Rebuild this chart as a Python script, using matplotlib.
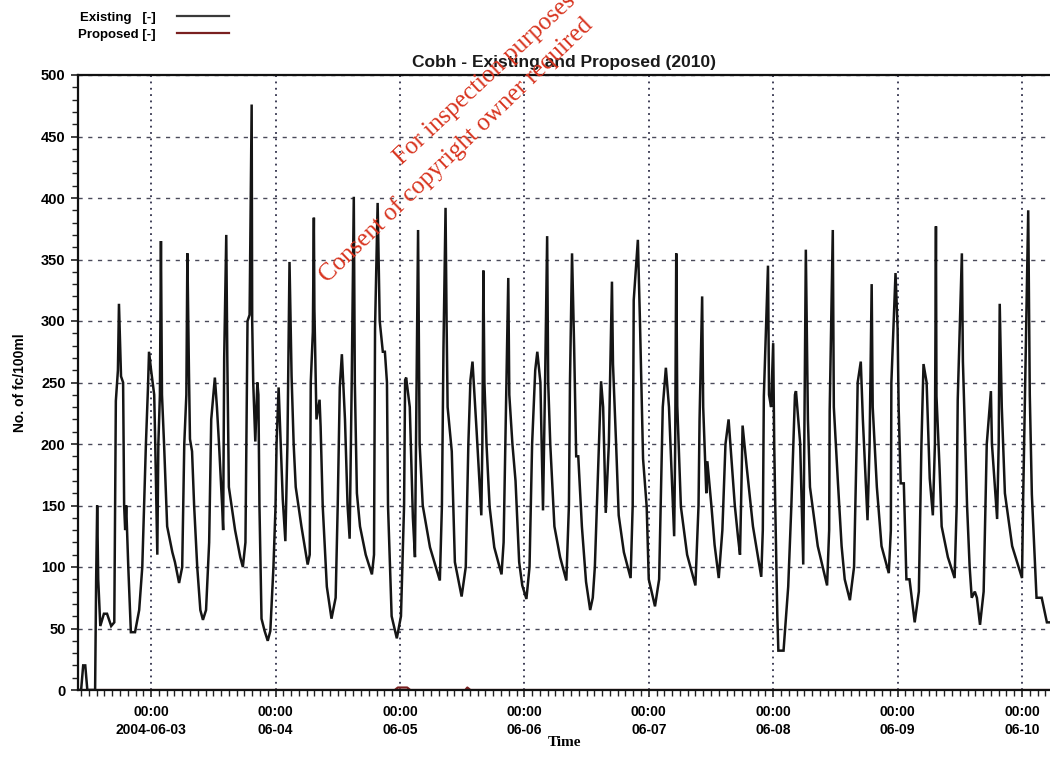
import matplotlib
matplotlib.use("Agg")
import matplotlib.pyplot as plt
from matplotlib.ticker import MultipleLocator, FixedLocator
from matplotlib.lines import Line2D

# ---------------- data (hours since 2004-06-02 00:00) ----------------
existing_hours = [
    9.9, 10.5, 10.9, 11.3, 11.7, 13.2, 13.4, 13.6, 13.8, 14.2, 14.9, 15.5, 16.3, 16.9,
    17.2, 17.6, 17.8, 18.2, 18.6, 18.8, 19.0, 19.2, 19.6, 20.1, 20.9, 21.7, 22.3, 23.0,
    23.4, 23.6, 24.0, 24.6, 24.8, 25.2, 25.4, 25.7, 25.9, 26.1, 26.5, 27.1, 28.1, 28.6,
    29.4, 30.0, 30.4, 30.8, 31.0, 31.3, 31.5, 31.9, 32.3, 32.9, 33.5, 34.0, 34.6, 35.2,
    35.6, 36.3, 36.7, 37.1, 37.7, 37.9, 38.1, 38.5, 38.7, 39.0, 40.2, 41.2, 41.7,
    42.2, 42.6, 43.0, 43.4, 43.5, 43.7, 44.1, 44.5, 44.7, 44.9, 45.3, 45.9, 46.5, 47.0,
    47.6, 48.0, 48.2, 48.6, 49.0, 49.4, 49.9, 50.3, 50.7, 51.1, 51.5, 51.9, 53.0, 54.2,
    54.6, 54.8, 55.2, 55.4, 55.5, 55.9, 56.5, 56.7, 57.1, 57.9, 58.8, 59.6, 60.0, 60.4,
    60.8, 61.4, 61.9, 62.3, 62.7, 63.1, 63.3, 63.7, 64.3, 65.4, 66.6, 67.0, 67.2, 67.7,
    68.1, 68.7, 69.1, 69.5, 69.7, 70.4, 71.4, 72.2, 72.8, 73.0,
    73.2, 73.9, 74.1, 74.5, 74.9, 75.1, 75.5, 75.8, 76.4, 77.8, 79.7, 80.1, 80.4, 80.8,
    81.0, 81.2, 82.0, 82.6, 83.9, 84.7, 85.2, 85.6, 86.0, 86.8, 87.7, 87.9, 88.1, 88.3,
    88.7, 89.3, 90.2, 91.6, 92.0, 92.5, 92.9, 93.1, 93.7, 94.3, 95.0, 95.6, 96.4, 97.0,
    97.5, 98.1, 98.5, 99.1, 99.6, 100.0, 100.4, 100.6, 101.0, 101.8, 102.9, 104.1, 104.6,
    104.8, 105.2,
    105.6, 106.0, 106.4, 107.1, 107.9, 108.7, 109.2, 109.6, 110.0, 110.8, 111.2, 111.7,
    112.3, 112.9, 113.1, 113.7, 114.2, 115.2, 116.5, 116.9, 117.1, 117.9, 118.3, 118.9,
    119.6, 120.0, 121.2, 122.0, 122.7, 123.3, 123.9, 124.9, 125.1, 125.3, 125.5, 126.2,
    127.4, 129.0, 129.6, 129.8, 130.3, 130.5, 131.1, 131.3, 132.1, 132.7, 133.5, 134.2,
    134.8, 135.4, 136.6, 137.2, 137.6, 137.8, 138.1, 138.9, 140.1, 141.7, 142.0, 142.2,
    143.0, 143.2, 143.6, 144.0, 144.2, 144.4, 144.8, 145.0, 146.0, 146.9, 147.5, 148.2,
    148.4, 149.2, 149.8, 150.0, 150.3, 150.7, 151.1, 152.6, 154.4, 154.8, 154.9, 155.5,
    155.7, 156.5, 157.2, 157.8, 158.8, 159.6, 160.1, 160.3, 160.9, 161.3, 162.2, 162.6,
    163.0, 163.2, 164.0, 164.9, 166.3, 166.7, 166.8, 167.6, 168.0, 168.2, 168.6, 169.2,
    169.7, 170.3, 171.3, 172.1, 172.6, 173.0, 173.6, 174.2, 174.8, 175.2, 175.4, 175.5,
    176.1, 176.5, 177.7, 179.0, 179.4, 179.6, 180.4, 180.6, 181.4, 181.9, 182.3, 182.9,
    183.3, 183.9, 184.6, 185.2, 186.0, 186.2, 187.2, 187.5, 187.7, 188.1, 188.7, 190.1,
    192.0, 192.2, 192.6, 193.2, 193.5, 193.9, 194.8, 195.8, 196.8, 197.4,
]
existing_values = [
    0, 0, 20, 20, 0, 0, 90, 150, 90, 52, 62, 62, 52, 55,
    235, 260, 314, 255, 250, 150, 130, 150, 100, 47, 47, 65, 100, 200,
    246, 275, 260, 240, 200, 110, 200, 240, 365, 240, 200, 133, 112, 104,
    87, 100, 200, 240, 355, 259, 204, 194, 150, 100, 65, 57, 65, 120,
    220, 254, 230, 200, 150, 130, 270, 370, 270, 165, 130, 108, 100,
    120, 300, 305, 476, 300, 250, 202, 250, 240, 150, 58, 48, 40, 48,
    100, 149, 200, 246, 200, 155, 121, 200, 348, 255, 200, 165, 133, 102,
    110, 250, 291, 384, 310, 220, 236, 214, 150, 84, 58, 75, 150, 246,
    273, 220, 150, 123, 250, 401, 250, 160, 133, 110, 94, 110, 294, 396,
    300, 275, 275, 250, 150, 60, 42, 60, 150, 252,
    254, 230, 200, 140, 108, 200, 374, 200, 150, 116, 89, 150, 278, 392,
    300, 230, 194, 104, 76, 100, 200, 252, 267, 210, 142, 200, 341, 250,
    200, 149, 116, 94, 120, 239, 335, 240, 200, 170, 104, 85, 74, 100,
    200, 260, 275, 250, 146, 250, 369, 250, 200, 133, 108, 89, 150,
    250, 355,
    280, 190, 190, 133, 88, 65, 75, 100, 150, 251, 230, 144,
    200, 332, 265, 200, 142, 112, 91, 150, 317, 366, 300, 188,
    149, 90, 68, 90, 230, 262, 230, 125, 200, 355, 231, 149,
    110, 85, 150, 220, 320, 230, 160, 186, 149, 118, 91, 130,
    200, 220, 150, 125, 110, 150, 215, 181, 133, 92, 130, 239,
    345, 240, 230, 282, 200, 150, 60, 32, 32, 84, 149, 240,
    243, 201, 102, 200, 358, 220, 165, 117, 85, 130, 227, 374,
    230, 168, 117, 90, 73, 100, 200, 250, 267, 220, 138, 200,
    330, 230, 165, 117, 95, 130, 250, 339, 294, 230, 168, 168,
    90, 90, 55, 80, 200, 265, 250, 172, 142, 200, 377, 239,
    180, 133, 108, 91, 150, 236, 355, 267, 150, 100, 75, 80,
    75, 53, 80, 200, 243, 200, 139, 200, 314, 230, 160, 117,
    91, 150, 246, 390, 240, 159, 75, 75, 55, 55,
]
proposed_hours = [9.9, 71.0, 71.6, 73.4, 74.0, 84.6, 85.0, 85.6, 197.4]
proposed_values = [0, 0, 2, 2, 0, 0, 2, 0, 0]

day_ticks = [24, 48, 72, 96, 120, 144, 168, 192]
day_labels = ["00:00\n2004-06-03", "00:00\n06-04", "00:00\n06-05", "00:00\n06-06",
              "00:00\n06-07", "00:00\n06-08", "00:00\n06-09", "00:00\n06-10"]
y_ticks = [0, 50, 100, 150, 200, 250, 300, 350, 400, 450, 500]

# ---------------- figure ----------------
W, H = 1050, 757
fig = plt.figure(figsize=(W / 100, H / 100), dpi=100)
ax = fig.add_axes([78 / W, 1 - 690 / H, (1050 - 78) / W, (690 - 75) / H])

ax.plot(existing_hours, existing_values, color="#151515", lw=1.8, zorder=3,
        solid_joinstyle="miter")
ax.plot(proposed_hours, proposed_values, color="#7a2020", lw=1.6, zorder=2)

ax.set_xlim(9.9, 197.4)
ax.set_ylim(0, 500)

ax.xaxis.set_major_locator(FixedLocator(day_ticks))
ax.set_xticklabels(day_labels)
ax.xaxis.set_minor_locator(MultipleLocator(1.5))
ax.set_yticks(y_ticks)
ax.yaxis.set_minor_locator(MultipleLocator(10))

for lab in ax.get_xticklabels():
    lab.set_fontproperties("Liberation Sans")
    lab.set_fontweight("bold")
    lab.set_fontsize(10)
    lab.set_linespacing(1.35)
for lab in ax.get_yticklabels():
    lab.set_fontproperties("Liberation Sans")
    lab.set_fontweight("bold")
    lab.set_fontsize(10.5)

ax.tick_params(axis="both", which="major", direction="out", length=5, width=1.2,
               color="#222222", pad=4)
ax.tick_params(axis="both", which="minor", direction="out", length=4, width=1.0,
               color="#222222")
ax.tick_params(axis="x", which="major", pad=6)

ax.grid(axis="y", which="major", color="#4a4a5a", lw=1.0, ls=(0, (3, 4)))
ax.grid(axis="x", which="major", color="#30304a", lw=1.3, ls=(0, (1, 2.5)))
ax.set_axisbelow(True)

for s in ["left", "bottom", "top"]:
    ax.spines[s].set_linewidth(1.6)
    ax.spines[s].set_color("#111111")
ax.spines["right"].set_visible(False)

ax.set_title("Cobh - Existing and Proposed (2010)", fontsize=12.5, fontweight="bold",
             family="Liberation Sans", pad=6, color="#1a1a1a")
ax.set_ylabel("No. of fc/100ml", fontsize=10, fontweight="bold",
              family="Liberation Sans", labelpad=10)
ax.set_xlabel("Time", fontsize=11, fontweight="bold", family="Liberation Serif",
              labelpad=-1)

# legend (text first, then line)
handles = [Line2D([], [], color="#3a3a3a", lw=1.6),
           Line2D([], [], color="#7a2020", lw=1.6)]
fig.legend(handles, ["Existing   [-]", "Proposed [-]"], loc="upper left",
           bbox_to_anchor=(66 / W, 1 - 0 / H), frameon=False, markerfirst=False,
           handlelength=4.0, handletextpad=1.6, labelspacing=0.35,
           prop=dict(family="Liberation Sans", weight="bold", size=9.5))

# watermark (runs off the top edge, as in the reference)
fig.text(402 / W, 1 - 165 / H, "For inspection purposes", color="#d8341f",
         fontsize=18, family="Liberation Serif", rotation=43, rotation_mode="anchor",
         ha="left", va="baseline")
fig.text(328 / W, 1 - 283 / H, "Consent of copyright owner required",
         color="#d8341f", fontsize=18, family="Liberation Serif", rotation=44,
         rotation_mode="anchor", ha="left", va="baseline")

fig.savefig("out.png", dpi=100)
